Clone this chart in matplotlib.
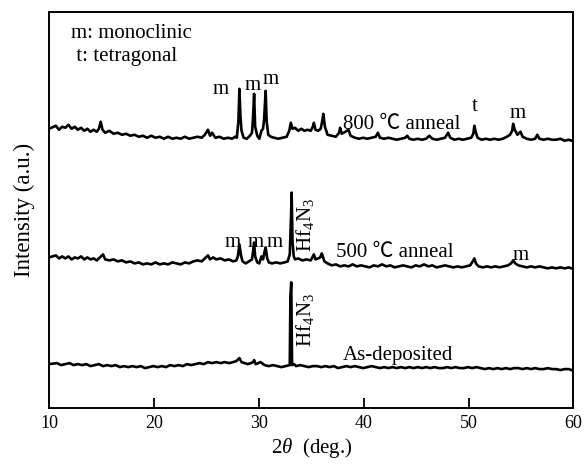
import matplotlib
matplotlib.use("Agg")
import matplotlib.pyplot as plt

plt.rcParams['font.family'] = ['Liberation Serif', 'Noto Sans CJK SC', 'DejaVu Sans']
plt.rcParams['mathtext.fontset'] = 'custom'
plt.rcParams['mathtext.rm'] = 'Liberation Serif'
plt.rcParams['mathtext.it'] = 'Liberation Serif:italic'

# ---- data (2theta in deg, intensity in a.u., vertically offset traces) ----
x_800 = [10.0, 10.65, 10.95, 11.25, 11.55, 11.85, 12.15, 12.45, 12.75, 13.05, 13.35, 13.65, 13.95, 14.25, 14.55, 14.75,
         14.92, 15.1, 15.35, 15.75, 16.15, 16.55, 16.95, 17.35, 17.75, 18.15, 18.55, 18.95, 19.35, 19.75, 20.15,
         20.55, 20.95, 21.35, 21.75, 22.15, 22.55, 22.95, 23.35, 23.75, 24.15, 24.55, 24.85, 25.15, 25.35, 25.55, 25.85,
         26.25, 26.65, 27.05, 27.45, 27.75, 27.9, 28.05, 28.15, 28.25, 28.35, 28.55, 28.85, 29.15, 29.35, 29.45, 29.55,
         29.65, 29.85, 30.05, 30.25, 30.4, 30.5, 30.65, 30.75, 30.9, 31.15, 31.45, 31.85, 32.25, 32.65, 32.9,
         33.05, 33.2, 33.45, 33.75, 34.05, 34.35, 34.65, 34.95, 35.15, 35.25, 35.4, 35.65, 35.9, 36.05, 36.15,
         36.3, 36.55, 36.95, 37.35, 37.65, 37.75, 37.9, 38.25, 38.55, 38.75, 39.15, 39.55, 39.95, 40.35, 40.75,
         41.15, 41.35, 41.55, 41.95, 42.35, 42.75, 43.15, 43.55, 43.95, 44.15, 44.35, 44.75, 45.15, 45.55, 45.95, 46.25,
         46.55, 46.95, 47.35, 47.75, 48.05, 48.25, 48.65, 49.05, 49.45, 49.85, 50.25, 50.45, 50.55, 50.65, 50.85, 51.25,
         51.65, 52.05, 52.45, 52.85, 53.25, 53.65, 53.95, 54.15, 54.25, 54.4, 54.65, 54.95, 55.15, 55.55, 55.95, 56.35,
         56.55, 56.75, 57.15, 57.55, 57.95, 58.35, 58.75, 59.15, 59.55, 59.8, 60.0]
y_800 = [278, 281, 277, 280, 279, 282, 278, 280, 277, 279, 276, 278, 275, 277, 275, 278,
         285, 277, 274, 276, 273, 274, 272, 273, 271, 272, 270, 271, 269, 271, 269,
         270, 268, 270, 268, 269, 268, 270, 268, 269, 270, 269, 272, 277, 271, 274, 269,
         270, 268, 269, 268, 270, 269, 285, 318, 290, 276, 269, 268, 271, 274, 290, 313,
         280, 271, 268, 276, 278, 287, 316, 285, 272, 270, 269, 268, 269, 270, 276,
         284, 278, 279, 276, 278, 276, 277, 276, 280, 284, 277, 276, 278, 286, 293,
         280, 272, 271, 270, 274, 279, 273, 275, 277, 271, 269, 268, 269, 268, 269,
         270, 274, 269, 268, 269, 268, 267, 268, 269, 271, 268, 267, 268, 267, 268, 271,
         268, 267, 268, 269, 274, 269, 267, 268, 267, 268, 269, 273, 281, 276, 269, 267,
         268, 267, 268, 267, 268, 270, 272, 276, 283, 277, 272, 275, 270, 268, 267, 268,
         272, 268, 267, 268, 267, 267, 268, 266, 267, 266, 267]

x_500 = [10.0, 10.65, 10.95, 11.25, 11.55, 11.85, 12.15, 12.45, 12.75, 13.05, 13.35, 13.65, 13.95, 14.25, 14.55, 14.85,
         15.15, 15.35, 15.75, 16.15, 16.55, 16.95, 17.35, 17.75, 18.15, 18.55, 18.95, 19.35, 19.75, 20.15, 20.55, 20.95,
         21.35, 21.75, 22.15, 22.55, 22.95, 23.35, 23.75, 24.15, 24.55, 24.85, 25.15, 25.35, 25.65, 25.95, 26.35, 26.75,
         27.15, 27.55, 27.85, 28.0, 28.15, 28.3, 28.45, 28.75, 29.05, 29.35, 29.45, 29.55, 29.65, 29.85, 30.05, 30.25,
         30.4, 30.55, 30.65, 30.8, 30.95, 31.25, 31.65, 32.05, 32.45, 32.75, 32.95, 33.07, 33.13, 33.21, 33.33,
         33.45, 33.75, 34.15, 34.55, 34.95, 35.15, 35.25, 35.4, 35.65, 35.85, 36.0, 36.1, 36.25, 36.55, 36.95,
         37.35, 37.75, 38.15, 38.55, 38.95, 39.35, 39.75, 40.15, 40.55, 40.95, 41.35, 41.75, 42.15, 42.55, 42.95, 43.35,
         43.75, 44.15, 44.55, 44.95, 45.35, 45.75, 46.15, 46.55, 46.95, 47.35, 47.75, 48.15, 48.55, 48.95, 49.35, 49.75,
         50.15, 50.45, 50.55, 50.7, 50.95, 51.35, 51.75, 52.15, 52.55, 52.95, 53.35, 53.75, 54.05, 54.25, 54.45, 54.75,
         55.15, 55.55, 55.95, 56.35, 56.75, 57.15, 57.55, 57.95, 58.35, 58.75, 59.15, 59.55, 59.8, 60.0]
y_500 = [149, 151, 148, 150, 148, 150, 147, 149, 148, 150, 147, 149, 147, 148, 146, 149,
         152, 147, 146, 147, 145, 146, 144, 145, 143, 144, 142, 143, 142, 144, 142, 143,
         142, 144, 143, 142, 144, 143, 145, 146, 145, 148, 151, 147, 149, 147, 148, 146,
         147, 145, 146, 150, 162, 151, 145, 143, 145, 147, 155, 164, 150, 144, 143, 150,
         147, 155, 159, 148, 144, 143, 144, 143, 144, 145, 152, 190, 214, 165, 150,
         147, 148, 146, 147, 146, 150, 152, 147, 148, 149, 153, 150, 145, 143, 141,
         142, 140, 141, 140, 142, 140, 141, 140, 139, 141, 140, 142, 140, 141, 139, 140,
         141, 140, 139, 141, 140, 142, 140, 141, 139, 140, 141, 140, 139, 140, 139, 140,
         141, 146, 148, 143, 140, 139, 140, 139, 140, 139, 140, 141, 143, 146, 143, 141,
         140, 139, 140, 139, 140, 139, 138, 139, 138, 139, 138, 139, 138, 138]

x_dep = [10.0, 10.75, 11.15, 11.55, 11.95, 12.35, 12.75, 13.15, 13.55, 13.95, 14.35, 14.75, 15.15, 15.55, 15.95, 16.35,
         16.75, 17.15, 17.55, 17.95, 18.35, 18.75, 19.15, 19.55, 19.95, 20.35, 20.75, 21.15, 21.55, 21.95, 22.35, 22.75,
         23.15, 23.55, 23.95, 24.35, 24.75, 25.15, 25.55, 25.95, 26.35, 26.75, 27.15, 27.55, 27.85, 28.15, 28.35, 28.65,
         28.95, 29.25, 29.45, 29.55, 29.7, 29.95, 30.15, 30.3, 30.55, 30.95, 31.35, 31.75, 32.15, 32.55, 32.95,
         33.01, 33.09, 33.17, 33.35, 33.55, 33.95, 34.35, 34.75, 35.15, 35.55, 35.95, 36.35, 36.75, 37.15, 37.55, 37.95,
         38.35, 38.75, 39.15, 39.55, 39.95, 40.35, 40.75, 41.15, 41.55, 41.95, 42.35, 42.75, 43.15, 43.55, 43.95, 44.35,
         44.75, 45.15, 45.55, 45.95, 46.35, 46.75, 47.15, 47.55, 47.95, 48.35, 48.75, 49.15, 49.55, 49.95, 50.35, 50.75,
         51.15, 51.55, 51.95, 52.35, 52.75, 53.15, 53.55, 53.95, 54.35, 54.75, 55.15, 55.55, 55.95, 56.35, 56.75, 57.15,
         57.55, 57.95, 58.35, 58.75, 59.15, 59.55, 59.8, 60.0]
y_dep = [42, 43, 41, 42, 43, 41, 42, 41, 42, 40, 41, 42, 40, 41, 40, 41,
         39, 40, 39, 40, 39, 40, 38, 39, 40, 39, 40, 39, 41, 40, 41, 40,
         42, 41, 42, 43, 42, 44, 43, 44, 43, 44, 43, 44, 45, 48, 44, 43,
         42, 43, 44, 46, 42, 43, 44, 43, 41, 40, 41, 40, 39, 40, 41,
         110, 124, 41, 42, 40, 41, 40, 39, 40, 40, 39, 40, 39, 40, 38, 39,
         40, 39, 40, 39, 38, 39, 40, 39, 38, 39, 38, 39, 38, 39, 38, 39,
         38, 39, 38, 39, 38, 39, 38, 38, 39, 38, 39, 38, 38, 39, 38, 39,
         38, 37, 38, 37, 38, 37, 38, 37, 38, 38, 37, 38, 37, 38, 37, 37,
         38, 37, 37, 36, 37, 37, 36, 37]

x_ticks = [10, 20, 30, 40, 50, 60]

fig = plt.figure(figsize=(5.84, 4.65), dpi=100)
ax = fig.add_axes([0.084, 0.1226, 0.898, 0.8514])

for xs, ys in [(x_800, y_800), (x_500, y_500), (x_dep, y_dep)]:
    ax.plot(xs, ys, color='black', lw=1.9, solid_joinstyle='round')

ax.set_xlim(10, 60)
ax.set_ylim(-2, 395)
ax.set_xticks(x_ticks)
ax.set_xticklabels([str(t) for t in x_ticks])
ax.set_yticks([])
ax.tick_params(axis='x', direction='in', length=7, width=1.3, labelsize=13, pad=5)
for s in ax.spines.values():
    s.set_linewidth(1.4)

ax.set_xlabel('2$\\it{\\theta}$  (deg.)', fontsize=15, labelpad=3)
ax.set_ylabel('Intensity (a.u.)', fontsize=16.5, labelpad=10)

fs = 15
ax.text(12.1, 374, 'm: monoclinic', fontsize=fs, ha='left', va='center')
ax.text(12.1, 350, ' t: tetragonal', fontsize=fs, ha='left', va='center')

# 800 C labels
for (tx, ty, s) in [(26.4, 317, 'm'), (29.4, 321, 'm'), (31.1, 327, 'm'),
                    (50.6, 300, 't'), (54.7, 293, 'm')]:
    ax.text(tx, ty, s, fontsize=fs, ha='center', va='center')
ax.text(38.0, 282, '800 ℃ anneal', fontsize=fs, ha='left', va='center')

# 500 C labels
for (tx, ty, s) in [(27.5, 164, 'm'), (29.65, 164, 'm'), (31.5, 164, 'm'),
                    (55.0, 151, 'm')]:
    ax.text(tx, ty, s, fontsize=fs, ha='center', va='center')
ax.text(37.4, 154, '500 ℃ anneal', fontsize=fs, ha='left', va='center')
ax.text(34.4, 182, 'Hf$_4$N$_3$', fontsize=fs, ha='center', va='center', rotation=90)

# as-deposited labels
ax.text(34.4, 86, 'Hf$_4$N$_3$', fontsize=fs, ha='center', va='center', rotation=90)
ax.text(38.0, 51, 'As-deposited', fontsize=fs, ha='left', va='center')

fig.savefig('out.png', dpi=100)
